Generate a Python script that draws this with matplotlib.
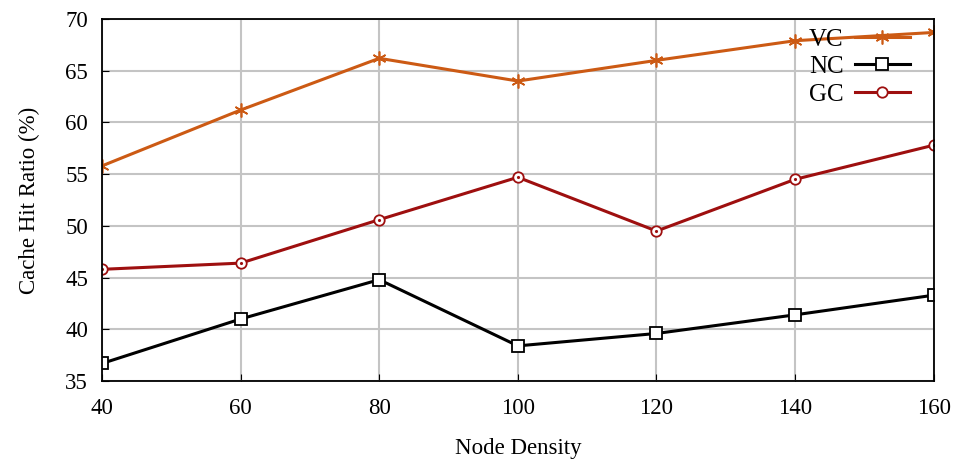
import numpy as np
import matplotlib.pyplot as plt

density = [40, 60, 80, 100, 120, 140, 160]
vc = [55.8, 61.2, 66.2, 64.0, 66.0, 67.9, 68.7]
nc = [36.7, 41.0, 44.8, 38.4, 39.6, 41.4, 43.3]
gc = [45.8, 46.4, 50.6, 54.7, 49.5, 54.5, 57.8]

plt.rcParams['font.family'] = ['Liberation Serif', 'DejaVu Serif']

fig = plt.figure(figsize=(9.66, 4.63), dpi=100)
ax = fig.add_axes([0.1056, 0.177, 0.861, 0.782])

ax.plot(density, vc, color='#cc5a14', linewidth=2.2, marker=(6, 2, 0),
        markersize=10, markeredgewidth=1.2, label='VC')
ax.plot(density, nc, color='black', linewidth=2.2, marker='s', markersize=8,
        markerfacecolor='white', markeredgewidth=1.3, label='NC')
ax.plot(density, gc, color='#9e0f0f', linewidth=2.2, marker='o', markersize=7.5,
        markerfacecolor='white', markeredgewidth=1.3, label='GC')
# dot in the middle of the GC circles
ax.plot(density, gc, linestyle='none', marker='.', markersize=2.5, color='#9e0f0f')

ax.set_xlim(40, 160)
ax.set_ylim(35, 70)
ax.set_xticks(density)
ax.set_yticks(np.arange(35, 71, 5))
ax.grid(True, color='#c4c4c4', linewidth=1.5)
ax.set_axisbelow(True)
ax.tick_params(direction='in', labelsize=16.5, length=5)
ax.tick_params(axis='x', pad=12)
ax.tick_params(axis='y', pad=10)
for s in ax.spines.values():
    s.set_linewidth(1.3)

ax.set_xlabel('Node Density', fontsize=16.5, labelpad=14)
ax.set_ylabel('Cache Hit Ratio (%)', fontsize=16.5, labelpad=18)

ax.legend(loc='upper right', frameon=False, markerfirst=False, fontsize=18,
          handlelength=2.2, handletextpad=0.45, borderaxespad=0, borderpad=0,
          labelspacing=0.2, bbox_to_anchor=(0.971, 0.975))

fig.savefig('out.png', dpi=100)
